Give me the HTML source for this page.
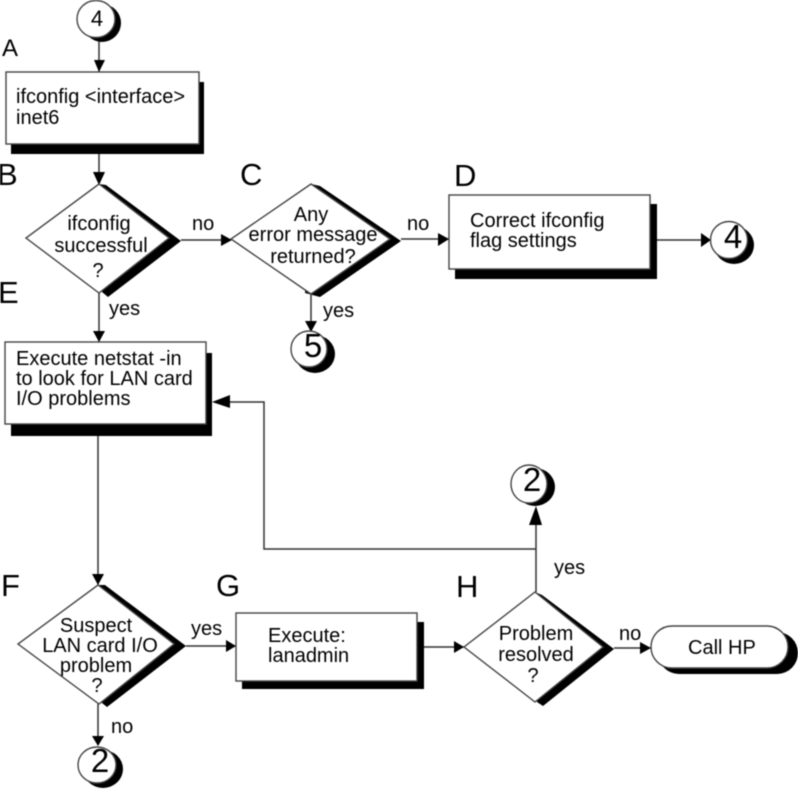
<!DOCTYPE html>
<html>
<head>
<meta charset="utf-8">
<style>
html,body{margin:0;padding:0;background:#fff;width:798px;height:789px;overflow:hidden}
svg{display:block;filter:blur(.6px)}
text{font-family:"Liberation Sans",sans-serif;font-size:20px;fill:#000}
.c{text-anchor:middle}
.L{font-size:31px}
.d{font-size:33px;text-anchor:middle}
.s{fill:#fff;stroke:#444;stroke-width:1.4}
.l{fill:none;stroke:#333;stroke-width:1.5}
</style>
</head>
<body>
<svg width="798" height="789" viewBox="0 0 798 789" xmlns="http://www.w3.org/2000/svg">
<!-- connectors -->
<path class="l" d="M99 38V72M99 144V184M181 240H231M99 293V342M401 239H449M650 240H708M311 293V331M98 424V585M186 646H236M98 704V745M417 647H464M614 648H651M536 592V510M536 549H264V402H215"/>
<!-- arrowheads -->
<g fill="#000">
<path d="M94 60H105L99 72Z"/>
<path d="M93 172H105L99 185Z"/>
<path d="M221 234V246L232 240Z"/>
<path d="M438 233V246L449 239Z"/>
<path d="M701 233V247L711 240Z"/>
<path d="M305 321H317L311 332Z"/>
<path d="M93 331H105L99 342Z"/>
<path d="M92 574H104L98 585Z"/>
<path d="M226 640V652L236 646Z"/>
<path d="M92 736H104L98 746Z"/>
<path d="M454 641V653L464 647Z"/>
<path d="M640 642V654L651 648Z"/>
<path d="M529 525H542L536 506Z"/>
<path d="M230 395V408L212 402Z"/>
</g>
<!-- circle 4 top -->
<ellipse cx="102" cy="23" rx="19" ry="19" fill="#000"/>
<ellipse class="s" cx="96" cy="19" rx="19" ry="18.5"/>
<text class="d" x="97" y="26" style="font-size:22px">4</text>
<!-- box A -->
<rect x="11" y="82" width="193" height="72" fill="#000"/>
<rect class="s" x="6" y="72" width="193" height="72"/>
<text x="16" y="103">ifconfig &lt;interface&gt;</text>
<text x="16" y="124">inet6</text>
<!-- diamond B -->
<path fill="#000" d="M106 185L181 241L108 297L102 292L99 184Z"/>
<path class="s" d="M99 184L169 238L99 293L26 238Z"/>
<text class="c" x="99" y="230">ifconfig</text>
<text class="c" x="101" y="252">successful</text>
<text class="c" x="98" y="277">?</text>
<text x="192" y="230">no</text>
<!-- diamond C -->
<path fill="#000" d="M320 186L401 241L320 297L305 293L311 184Z"/>
<path class="s" d="M311 184L390 239L311 294L231 239Z"/>
<text class="c" x="311" y="221">Any</text>
<text class="c" x="313" y="241">error message</text>
<text class="c" x="313" y="263">returned?</text>
<text x="407" y="230">no</text>
<text x="323" y="317">yes</text>
<!-- box D -->
<rect x="455" y="204" width="202" height="75" fill="#000"/>
<rect class="s" x="449" y="195" width="201" height="74"/>
<text x="470" y="227">Correct ifconfig</text>
<text x="470" y="247">flag settings</text>
<!-- circle 4 right -->
<ellipse cx="734" cy="245" rx="20" ry="19" fill="#000"/>
<ellipse class="s" cx="729" cy="240" rx="18.5" ry="18.5"/>
<text class="d" x="733" y="248">4</text>
<!-- circle 5 -->
<ellipse cx="315" cy="354" rx="20" ry="19" fill="#000"/>
<ellipse class="s" cx="309" cy="349" rx="18" ry="18"/>
<text class="d" x="313" y="357">5</text>
<!-- box E -->
<rect x="11" y="353" width="201" height="83" fill="#000"/>
<rect class="s" x="5" y="342" width="201" height="82"/>
<text x="16" y="365">Execute netstat -in</text>
<text x="16" y="385">to look for LAN card</text>
<text x="16" y="405">I/O problems</text>
<text x="109" y="315">yes</text>
<!-- diamond F -->
<path fill="#000" d="M105 585L186 646L107 707L102 703L98 585Z"/>
<path class="s" d="M98 585L174 644L99 704L18 644Z"/>
<text class="c" x="96" y="632">Suspect</text>
<text class="c" x="100" y="652">LAN card I/O</text>
<text class="c" x="96" y="672">problem</text>
<text class="c" x="97" y="692">?</text>
<text x="191" y="635">yes</text>
<text x="111" y="733">no</text>
<!-- circle 2 bottom -->
<ellipse cx="103" cy="769" rx="20" ry="19" fill="#000"/>
<ellipse class="s" cx="97" cy="765" rx="19" ry="18"/>
<text class="d" x="100" y="772">2</text>
<!-- box G -->
<rect x="242" y="622" width="182" height="67" fill="#000"/>
<rect class="s" x="236" y="613" width="181" height="68"/>
<text x="268" y="642">Execute:</text>
<text x="268" y="662">lanadmin</text>
<!-- diamond H -->
<path fill="#000" d="M542 595L614 649L543 706L537 702L535 592Z"/>
<path class="s" d="M535 592L603 647L535 702L464 647Z"/>
<text class="c" x="536" y="640">Problem</text>
<text class="c" x="536" y="661">resolved</text>
<text class="c" x="533" y="682">?</text>
<text x="619" y="640">no</text>
<text x="554" y="574">yes</text>
<!-- circle 2 top -->
<ellipse cx="535" cy="487" rx="20" ry="19" fill="#000"/>
<ellipse class="s" cx="529" cy="484" rx="18" ry="19"/>
<text class="d" x="532" y="491">2</text>
<!-- pill -->
<rect x="658" y="632" width="140" height="42" rx="21" fill="#000"/>
<rect class="s" x="651" y="626" width="137" height="42" rx="21"/>
<text x="688" y="654">Call HP</text>
<!-- letters -->
<text x="2" y="56" style="font-size:24px">A</text>
<text class="L" x="-3" y="185">B</text>
<text class="L" x="240" y="185">C</text>
<text class="L" x="454" y="186">D</text>
<text class="L" x="-2" y="303">E</text>
<text class="L" x="1" y="596">F</text>
<text class="L" x="216" y="596">G</text>
<text class="L" x="456" y="597">H</text>
</svg>
</body>
</html>
